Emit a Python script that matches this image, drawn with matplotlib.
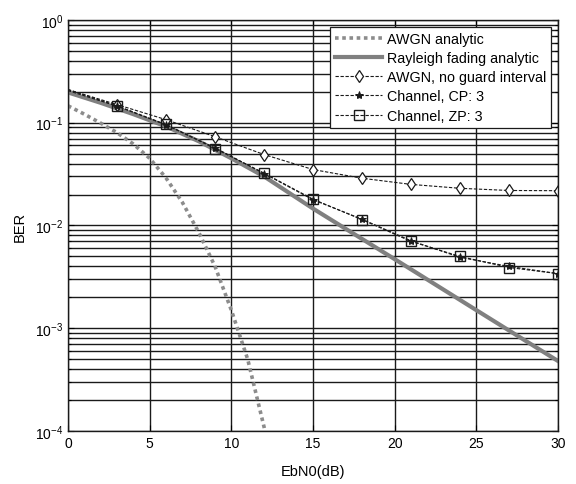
import matplotlib
matplotlib.use('Agg')
import matplotlib.pyplot as plt
import numpy as np
from matplotlib.ticker import LogLocator, FixedLocator, NullFormatter

plt.rcParams['font.family'] = ['Liberation Sans', 'DejaVu Sans']
plt.rcParams['mathtext.default'] = 'regular'

# AWGN analytic curve
ebn0_awgn = [0, 1, 2, 3, 4, 5, 6, 7, 8, 9, 10, 11, 12, 13]
ber_awgn = [0.146, 0.121, 0.099, 0.080, 0.062, 0.045, 0.029, 0.0168, 0.0086,
            0.0040, 0.0015, 0.00050, 0.000110, 0.00002]

# Rayleigh fading analytic curve
ebn0_ray = [0, 2, 4, 6, 8, 10, 12, 15, 20, 25, 30]
ber_ray = [0.197, 0.156, 0.121, 0.092, 0.066, 0.045, 0.030, 0.0146,
           0.0047, 0.0015, 0.00048]

# simulated curves, one point every 3 dB
ebn0_sim = [0, 3, 6, 9, 12, 15, 18, 21, 24, 27, 30]
ber_noguard = [0.21, 0.150, 0.107, 0.073, 0.049, 0.035, 0.0288, 0.0251,
               0.0230, 0.0219, 0.0218]
ber_cp = [0.205, 0.145, 0.095, 0.057, 0.032, 0.0178, 0.0115, 0.0071,
          0.0049, 0.0040, 0.0034]
ber_zp = [0.21, 0.146, 0.096, 0.056, 0.0323, 0.0180, 0.0114, 0.0070,
          0.0050, 0.0039, 0.0034]

fig = plt.figure(figsize=(5.76, 4.85), dpi=100)
ax = fig.add_axes([0.118, 0.109, 0.851, 0.848])

ax.semilogy(ebn0_awgn, ber_awgn, color='0.55', lw=2.6, ls=(0, (1, 1)),
            label='AWGN analytic')
ax.semilogy(ebn0_ray, ber_ray, color='0.5', lw=3, ls='-',
            label='Rayleigh fading analytic')
ax.semilogy(ebn0_sim, ber_noguard, color='0.1', lw=0.8, ls=(0, (3, 1.5)),
            marker='d', ms=6, mfc='white', mec='0.1', mew=0.9,
            markevery=slice(1, None), label='AWGN, no guard interval')
ax.semilogy(ebn0_sim, ber_cp, color='0.1', lw=0.8, ls=(0, (3, 1.5)),
            marker='*', ms=6, mfc='0.1', mec='0.1', mew=0.7,
            markevery=slice(1, None), label='Channel, CP: 3')
ax.semilogy(ebn0_sim, ber_zp, color='0.1', lw=0.8, ls=(0, (3, 1.5)),
            marker='s', ms=6.5, mfc='none', mec='0.1', mew=1.0,
            markevery=slice(1, None), label='Channel, ZP: 3')

ax.set_xlim(0, 30)
ax.set_ylim(1e-4, 1)
ax.xaxis.set_major_locator(FixedLocator([0, 5, 10, 15, 20, 25, 30]))
ax.yaxis.set_major_locator(LogLocator(base=10, numticks=10))
ax.yaxis.set_minor_locator(LogLocator(base=10, subs=np.arange(2, 10), numticks=20))
ax.yaxis.set_minor_formatter(NullFormatter())

ax.grid(True, which='major', color='0.1', lw=1.0, ls='-')
ax.grid(True, which='minor', axis='y', color='0.1', lw=1.0, ls='-')
ax.set_axisbelow(True)

ax.tick_params(which='both', direction='in', top=True, right=True,
               labelsize=10, width=0.8)
ax.tick_params(which='major', length=4)
ax.tick_params(which='minor', length=2)
for s in ax.spines.values():
    s.set_linewidth(1.0)
    s.set_color('0.1')

ax.set_xlabel('EbN0(dB)', fontsize=10.5, labelpad=10)
ax.set_ylabel('BER', fontsize=10.5, labelpad=6)

leg = ax.legend(loc='upper right', fontsize=10.3, frameon=True, fancybox=False,
                edgecolor='0.1', framealpha=1, handlelength=3.3,
                handletextpad=0.3, labelspacing=0.36, borderaxespad=0.5,
                borderpad=0.35)
leg.get_frame().set_linewidth(0.9)

fig.savefig('out.png', dpi=100)
